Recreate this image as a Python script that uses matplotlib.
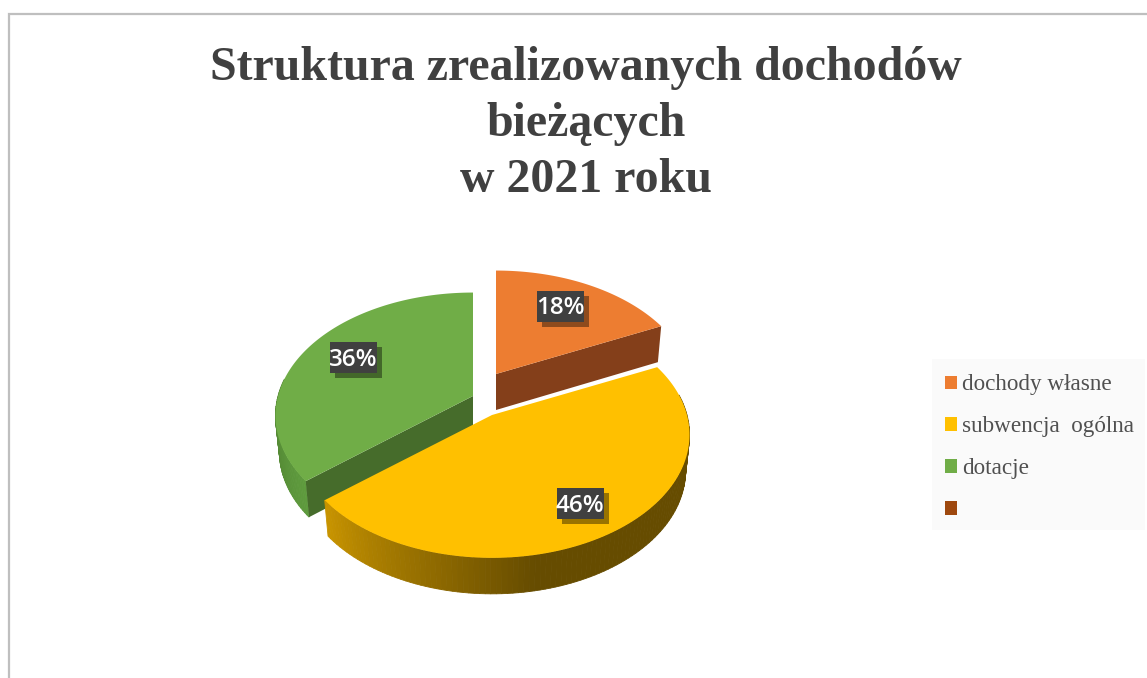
import matplotlib

matplotlib.use("Agg")

import matplotlib.pyplot as plt
import numpy as np
from matplotlib.colors import to_rgb
from matplotlib.patches import Patch, Rectangle

title_lines = ["Struktura zrealizowanych dochodów", "bieżących", "w 2021 roku"]
categories = ["dochody własne", "subwencja  ogólna", "dotacje", " "]
values = [18, 46, 36]
labels = ["18%", "46%", "36%"]
colors = ["#ED7D31", "#FFC000", "#70AD47", "#9E480E"]

DEPTH = 36
RX, RY, PERSP = 195, 120, 0.16
# where each slice's tip sits after the explosion, pixels
apex = {0: (496, 374), 1: (492, 415), 2: (473, 396)}
label_pos = {0: (560.5, 306), 1: (580, 503), 2: (353, 357)}


def project(t, tip, low=False):
    u, v = np.cos(np.radians(t)), np.sin(np.radians(t))
    x = RX * u / (1 + PERSP * v)
    y = RY * v / (1 + PERSP * v)
    if low:
        return tip[0] + 0.98 * x, tip[1] - y + DEPTH
    return tip[0] + x, tip[1] - y


def mix(a, b, f):
    a, b = np.array(to_rgb(a)), np.array(to_rgb(b))
    return tuple(a + (b - a) * min(max(f, 0), 1))


fig = plt.figure(figsize=(11.47, 6.78), dpi=100)
ax = fig.add_axes([0, 0, 1, 1])
ax.set_xlim(0, 1147)
ax.set_ylim(678, 0)
ax.axis("off")

# chart frame, only top and left are in the crop
ax.plot([9, 9, 1147], [678, 14, 14], color="#BFBFBF", lw=1.6, solid_joinstyle="miter")

# slice angles, clockwise from 12 o'clock
angles = 90 - np.cumsum([0] + values) * 3.6
spans = {i: (angles[i + 1], angles[i]) for i in range(3)}

wall_colors = {0: "#843F1A", 1: "#664C00", 2: "#466C2B"}
cut_angle = {0: spans[0][0], 2: spans[2][1]}


def rim_color(i, t):
    if i == 1:
        return mix("#C89400", "#664C00", (t + 140) / 60)
    if i == 2:
        return mix("#4F8030", "#5F9C3E", (t + 180) / 40)
    return wall_colors[i]


# back to front: green, orange, then yellow on top
for z, i in enumerate([2, 0, 1]):
    t0, t1 = spans[i]
    tip = apex[i]
    ts = np.linspace(t0, t1, 120)
    # outer rim as thin strips, so the shading can change along it
    for a, b in zip(ts[:-1], ts[1:]):
        if np.sin(np.radians(a)) > 0.15:
            continue
        xa, ya = project(a, tip)
        xb, yb = project(b, tip)
        xc, yc = project(b, tip, low=True)
        xd, yd = project(a, tip, low=True)
        ax.fill([xa, xb, xc, xd], [ya, yb, yc, yd], color=rim_color(i, a), lw=0.6, zorder=z * 3 + 1)
    # cut face towards the viewer
    if i != 1:
        xa, ya = project(cut_angle[i], tip)
        xd, yd = project(cut_angle[i], tip, low=True)
        ax.fill([tip[0], xa, xd, tip[0]], [tip[1], ya, yd, tip[1] + DEPTH],
                color=wall_colors[i], lw=0, zorder=z * 3 + 2)
    xs, ys = project(ts, tip)
    ax.fill(np.r_[tip[0], xs], np.r_[tip[1], ys], color=colors[i], lw=0, zorder=z * 3 + 3)

for i, lab in enumerate(labels):
    x, y = label_pos[i]
    ax.add_patch(Rectangle((x - 18.5, y - 10.5), 47, 31, fc="black", ec="none", alpha=0.4, zorder=20))
    ax.add_patch(Rectangle((x - 23.5, y - 15.5), 47, 31, fc="#404040", ec="none", zorder=21))
    ax.text(x, y + 2.5, lab, color="white", fontsize=17.5, family="Open Sans", weight="semibold",
            ha="center", va="center", zorder=22)

for line, y in zip(title_lines, [68, 124, 180]):
    ax.text(586, y, line, color="#404040", fontsize=34.5, family="Liberation Serif",
            weight="bold", ha="center", va="center")

ax.add_patch(Rectangle((932, 359), 213, 171, fc="#FAFAFA", ec="none", zorder=1))
handles = [Patch(fc=c, ec="none") for c in colors]
ax.legend(handles, categories, loc="upper left", bbox_to_anchor=(932 / 1147, 1 - 361.5 / 678),
          frameon=False, prop={"family": "Liberation Serif", "size": 16.7}, labelcolor="#505050",
          handlelength=0.52, handleheight=0.52, handletextpad=0.22, labelspacing=0.9,
          borderpad=0.56, borderaxespad=0)

fig.savefig("out.png", dpi=100)
plt.close(fig)
